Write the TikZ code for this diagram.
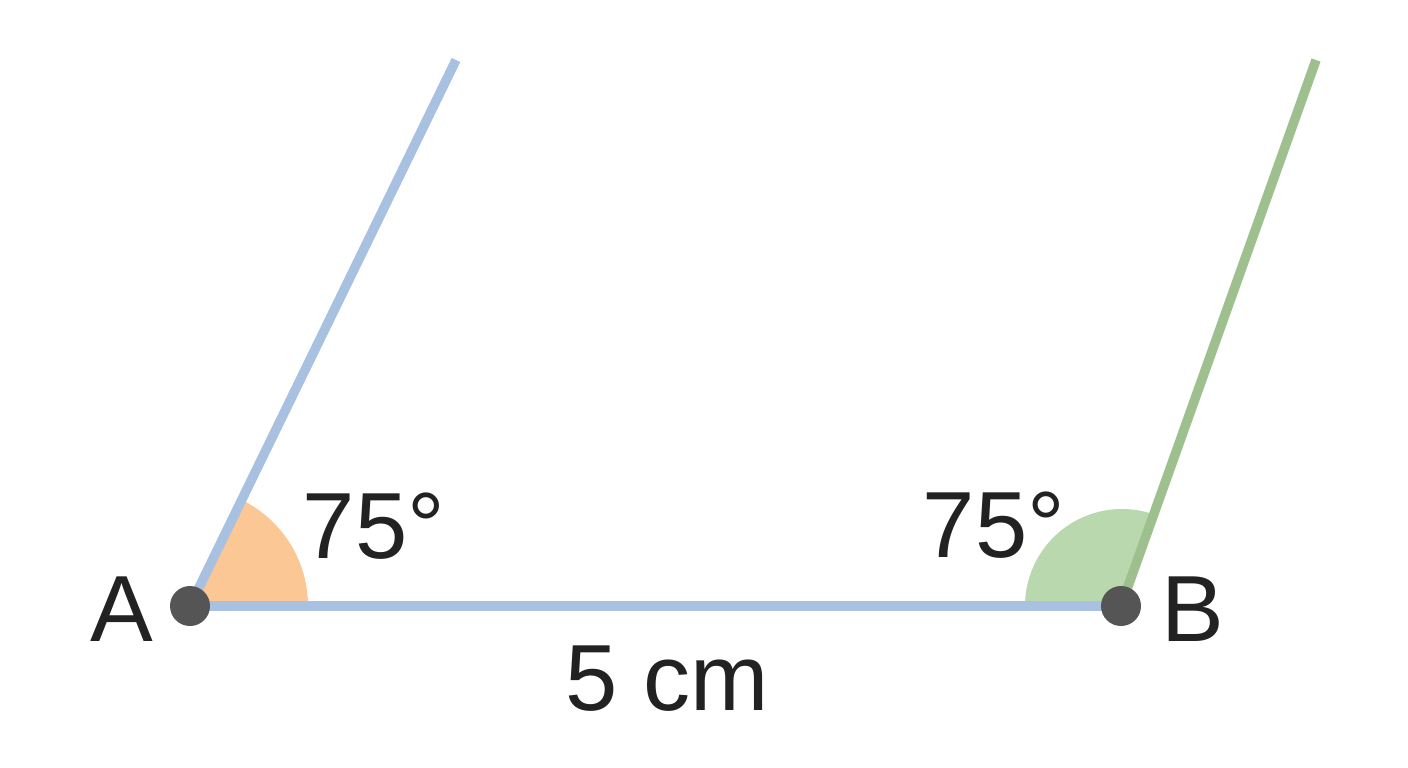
\documentclass[tikz,border=0pt]{standalone}
\usepackage{fontspec}
\setmainfont{Liberation Sans}
\definecolor{lineblue}{HTML}{A8C1E0}
\definecolor{linegreen}{HTML}{9DC08E}
\definecolor{fillorange}{HTML}{FBC795}
\definecolor{fillgreen}{HTML}{BAD8AE}
\definecolor{dotgray}{HTML}{555555}
\definecolor{txt}{HTML}{222222}
\begin{document}
\begin{tikzpicture}[x=1pt,y=-1pt,
  ray/.style={line width=9.5pt},
  pt/.style={circle,fill=dotgray,minimum size=40pt,inner sep=0pt},
  lbl/.style={inner sep=0pt,anchor=base,text=txt,font=\fontsize{94}{100}\selectfont}]
\useasboundingbox (0,0) rectangle (1408,768);
\coordinate (A) at (190,606);
\coordinate (B) at (1121,606);
\coordinate (P) at (456,60);
\coordinate (Q) at (1316,60);
% angle sectors
\fill[fillorange] (A) -- ++(118,0) arc[start angle=0,end angle=-63,radius=118] -- cycle;
\fill[fillgreen] (B) -- ++(-96,0) arc[start angle=180,end angle=288,radius=97] -- cycle;
% rays
\draw[ray,lineblue] (A) -- (P);
\draw[ray,lineblue] (A) -- (B);
\draw[ray,linegreen] (B) -- (Q);
% points
\node[pt] (a) at (A) {};
\node[pt] (b) at (B) {};
% labels
\node[lbl] (la) at (121.5,641) {A};
\node[lbl] (lb) at (1192.5,641) {B};
\node[lbl] (aa) at (374,558) {75°};
\node[lbl] (ab) at (994,557) {75°};
\node[lbl] (len) at (667,710) {5 cm};
\end{tikzpicture}
\end{document}
